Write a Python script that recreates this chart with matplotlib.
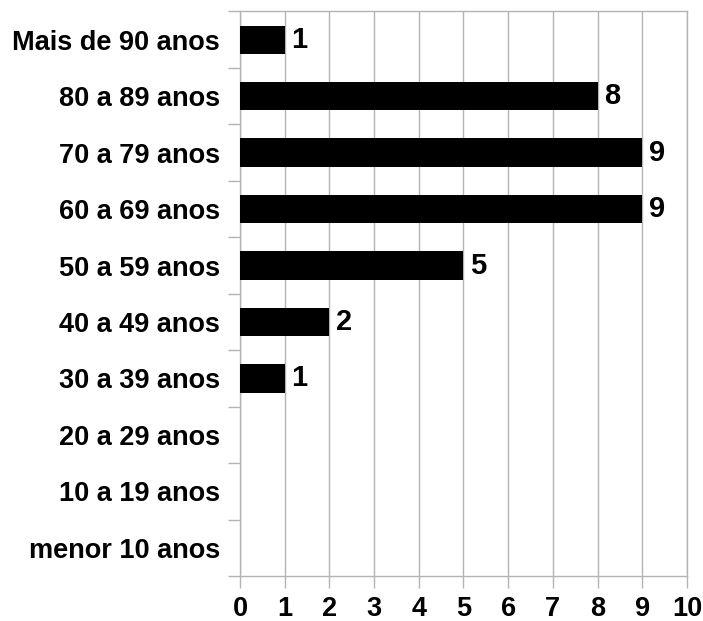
import matplotlib
matplotlib.use("Agg")
import matplotlib.pyplot as plt
import numpy as np

categories = ["menor 10 anos", "10 a 19 anos", "20 a 29 anos", "30 a 39 anos",
              "40 a 49 anos", "50 a 59 anos", "60 a 69 anos", "70 a 79 anos",
              "80 a 89 anos", "Mais de 90 anos"]
values = [0, 0, 0, 1, 2, 5, 9, 9, 8, 1]
xticks = list(range(0, 11))

plt.rcParams['font.family'] = ['Liberation Sans', 'DejaVu Sans']
plt.rcParams['font.weight'] = 'bold'

grey = '#b3b3b3'

fig = plt.figure(figsize=(7.03, 6.21), dpi=100)
ax = fig.add_axes([0.3414, 0.0725, 0.9772 - 0.3414, 0.9815 - 0.0725])

pos = np.arange(len(categories))
bars = ax.barh(pos, values, height=0.5, color='black', zorder=3)

# no label for empty age groups
labels = [str(v) if v > 0 else '' for v in values]
ax.bar_label(bars, labels=labels, padding=4.5, fontsize=21, fontweight='bold')

ax.set_xlim(0, 10)
ax.set_ylim(-0.5, len(categories) - 0.5)
ax.set_xticks(xticks)
ax.set_xticklabels([str(t) for t in xticks], fontsize=19.5, fontweight='bold')
ax.set_yticks(pos)
ax.set_yticklabels(categories, fontsize=19.5, fontweight='bold')
ax.set_yticks(np.arange(len(categories) + 1) - 0.5, minor=True)

ax.tick_params(axis='y', which='major', length=0, pad=14.4)
ax.tick_params(axis='y', which='minor', length=8.6, width=1, color=grey)
ax.tick_params(axis='x', which='major', length=8.3, width=1, color=grey, pad=6)

ax.grid(axis='x', color=grey, linewidth=1, zorder=0)
for side in ['left', 'bottom', 'top', 'right']:
    ax.spines[side].set_color(grey)
    ax.spines[side].set_linewidth(1)

fig.savefig('out.png', dpi=100)
